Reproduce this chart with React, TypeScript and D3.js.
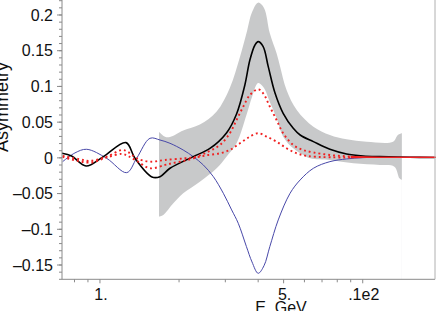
import * as d3 from 'd3';
import * as React from 'react';

type Pt = [number, number];

// black: asymmetry (central)
const blackCurve: Pt[] = [
  [0.717, 0.0064], [0.78, 0.0027], [0.885, -0.0113], [1.027, 0.0013], [1.256, 0.0213],
  [1.359, -0.0006], [1.577, -0.0267], [1.692, -0.0263], [1.847, -0.0146], [2.265, 0.0017],
  [2.621, 0.0132], [3.03, 0.0349], [3.31, 0.0615], [3.56, 0.102], [3.72, 0.137],
  [3.89, 0.158], [4.0, 0.1627], [4.18, 0.1557], [4.37, 0.1277], [4.64, 0.0904],
  [4.98, 0.0624], [5.44, 0.0414], [5.78, 0.032], [6.49, 0.0227], [7.5, 0.012],
  [8.68, 0.0055], [10.04, 0.0027], [11.61, 0.0017], [15.1, 0.0008], [18.8, 0.0004],
];

// blue
const blueCurve: Pt[] = [
  [0.721, -0.0053], [0.803, 0.0069], [0.89, 0.012], [1.06, -0.0006], [1.264, -0.0207],
  [1.379, -0.0006], [1.55, 0.0274], [1.692, 0.025], [1.847, 0.0204], [2.074, 0.011],
  [2.265, 0.0017], [2.473, -0.0099], [2.701, -0.0263], [2.948, -0.0496], [3.171, -0.0729],
  [3.36, -0.0916], [3.61, -0.1243], [3.79, -0.1457], [4.0, -0.1616], [4.21, -0.151],
  [4.43, -0.1243], [4.77, -0.0869], [5.29, -0.0496], [5.78, -0.0309], [6.49, -0.0146],
  [7.5, -0.0053], [8.68, -0.0015], [10.04, 0.0003], [11.61, 0.0008], [18.8, 0.0006],
];

// red dotted curves
const redUpper: Pt[] = [
  [0.721, 0.0027], [0.839, -0.002], [0.916, -0.0043], [1.06, 0.0017], [1.213, 0.011],
  [1.278, 0.0083], [1.383, -0.0008], [1.55, -0.0053], [1.768, -0.0029], [2.106, -0.0006],
  [2.333, 0.0017], [2.583, 0.0087], [2.86, 0.018], [3.12, 0.0344], [3.31, 0.053],
  [3.51, 0.0717], [3.72, 0.088], [4.0, 0.096], [4.18, 0.0904], [4.43, 0.0717],
  [4.7, 0.053], [4.98, 0.0344], [5.44, 0.018], [5.94, 0.011], [6.49, 0.0076],
  [7.5, 0.004], [8.68, 0.0022], [10.04, 0.0013], [11.6, 0.0008], [19, 0.0008],
];
const redLower: Pt[] = [
  [0.721, 0.0013], [0.916, -0.0067], [1.06, 0.0006], [1.213, 0.0055], [1.278, 0.0027],
  [1.383, -0.0043], [1.55, -0.0146], [1.768, -0.0099], [1.88, -0.0076], [2.106, -0.0039],
  [2.333, 0.0006], [2.583, 0.004], [2.86, 0.0064], [3.12, 0.011], [3.41, 0.0204],
  [3.72, 0.0297], [4.0, 0.0344], [4.31, 0.0297], [4.7, 0.0227], [5.13, 0.0134],
  [5.61, 0.0064], [6.13, 0.0027], [7.5, 0.0008], [11.6, 0.0006], [19, 0.0006],
];

// gray error band
const bandUpper: Pt[] = [
  [1.677, 0.0367], [1.768, 0.0297], [1.847, 0.0293], [2.074, 0.0384], [2.4, 0.0468],
  [2.78, 0.065], [3.12, 0.0979], [3.41, 0.1413], [3.61, 0.1744], [3.79, 0.204],
  [4.0, 0.2173], [4.21, 0.2099], [4.43, 0.1744], [4.7, 0.1464], [4.85, 0.1277],
  [5.13, 0.0951], [5.61, 0.0671], [6.49, 0.0437], [7.5, 0.0321], [8.68, 0.026],
  [10.35, 0.0227], [13.05, 0.0227], [13.6, 0.0321], [14.1, 0.0344],
];
const bandLower: Pt[] = [
  [1.677, -0.0823], [1.742, -0.0799], [1.902, -0.0636], [2.074, -0.0496], [2.4, -0.0333],
  [2.78, -0.0146], [3.03, 0.0017], [3.31, 0.0204], [3.61, 0.06], [3.79, 0.0853],
  [4.0, 0.1049], [4.21, 0.0979], [4.43, 0.0783], [4.7, 0.0559], [4.98, 0.0297],
  [5.44, 0.0134], [5.94, 0.0041], [6.31, -0.0006], [7.5, -0.0029], [9.22, -0.0076],
  [11.61, -0.0099], [13.2, -0.0123], [13.8, -0.0286], [14.1, -0.0309],
];

const xMajor = [1, 5, 10];
const xMajorLabels = ['1.', '5.', '.1e2'];
const xMinor = [0.8, 0.9, 2, 3, 4, 6, 7, 8, 9];
const yMajor = [0.2, 0.15, 0.1, 0.05, 0, -0.05, -0.1, -0.15];
const yMajorLabels = ['0.2', '0.15', '0.1', '0.05', '0', '\u20130.05', '\u20130.1', '\u20130.15'];
const yMinor = d3.range(-17, 23).map((i) => i / 100);

const W = 436;
const H = 311;
const L = 62;
const R = 435;
const B = 279.3;

export default function App() {
  const x = d3.scaleLog().domain([0.717, 18.84]).range([L, R]);
  const y = d3.scaleLinear().domain([-0.17, 0.22]).range([B, 0.7]);

  const line = d3
    .line<Pt>()
    .x((d) => x(d[0]))
    .y((d) => y(d[1]))
    .curve(d3.curveCatmullRom.alpha(0.5));

  // upper and lower edges were read at different E, so the band is the
  // area under the upper edge with the area under the lower edge masked out
  const upperPath = line(bandUpper) || '';
  const lowerPath = line(bandLower) || '';
  const e0 = x(bandUpper[0][0]);
  const e1 = x(bandUpper[bandUpper.length - 1][0]);

  const xSplit = x(9);
  const font = "'Liberation Sans', Arial, sans-serif";

  return (
    <svg width={W} height={H} style={{ position: 'absolute', left: 0, top: 0 }} fontFamily={font}>
      <defs>
        <clipPath id="plot">
          <rect x={L} y={0} width={R - L + 1} height={B} />
        </clipPath>
        <clipPath id="dotted">
          <rect x={L} y={0} width={xSplit - L} height={B} />
        </clipPath>
        <clipPath id="solid">
          <rect x={xSplit} y={0} width={W - xSplit} height={B} />
        </clipPath>
        <mask id="bandmask">
          <path d={`${upperPath}L${e1},${B + 5}L${e0},${B + 5}Z`} fill="white" />
          <path d={`${lowerPath}L${e1},${B + 5}L${e0},${B + 5}Z`} fill="black" />
        </mask>
      </defs>

      <g clipPath="url(#plot)">
        <rect x={e0} y={0} width={e1 - e0} height={B} fill="#c8c9ca" mask="url(#bandmask)" />

        <path d={line(blueCurve) || ''} fill="none" stroke="#4848a8" strokeWidth={1} />
        <path d={line(blackCurve) || ''} fill="none" stroke="#000" strokeWidth={1.6} />

        {[redUpper, redLower].map((c, i) => (
          <g key={i}>
            <path
              d={line(c) || ''}
              fill="none"
              stroke="#f02020"
              strokeWidth={1.9}
              strokeDasharray="1.9 3"
              clipPath="url(#dotted)"
            />
            <path d={line(c) || ''} fill="none" stroke="#f02020" strokeWidth={1.3} clipPath="url(#solid)" />
          </g>
        ))}
      </g>

      {/* axes */}
      <line x1={L} x2={L} y1={0} y2={B} stroke="#8a8a8a" />
      <line x1={L} x2={R} y1={B} y2={B} stroke="#8a8a8a" />
      <line x1={R} x2={R} y1={0} y2={B} stroke="#b0b0b0" />

      {yMinor.map((v) => (
        <line key={v} x1={L - 3} x2={L} y1={y(v)} y2={y(v)} stroke="#8a8a8a" />
      ))}
      {yMajor.map((v, i) => (
        <g key={v}>
          <line x1={L - 5} x2={L} y1={y(v)} y2={y(v)} stroke="#8a8a8a" />
          <text x={53} y={y(v)} dy="0.36em" textAnchor="end" fontSize={16} fill="#111">
            {yMajorLabels[i]}
          </text>
        </g>
      ))}

      {xMinor.map((v) => (
        <line key={v} x1={x(v)} x2={x(v)} y1={B} y2={B + 3} stroke="#8a8a8a" />
      ))}
      {xMajor.map((v, i) => (
        <g key={v}>
          <line x1={x(v)} x2={x(v)} y1={B} y2={B + 4} stroke="#8a8a8a" />
          <text x={x(v) + 1} y={300} textAnchor="middle" fontSize={16} fill="#111">
            {xMajorLabels[i]}
          </text>
        </g>
      ))}

      <text x={281} y={313} textAnchor="middle" fontSize={16} fill="#111">
        E, GeV
      </text>
      <text transform="translate(7.5, 107) rotate(-90)" textAnchor="middle" fontSize={18} fill="#111">
        Asymmetry
      </text>
    </svg>
  );
}
